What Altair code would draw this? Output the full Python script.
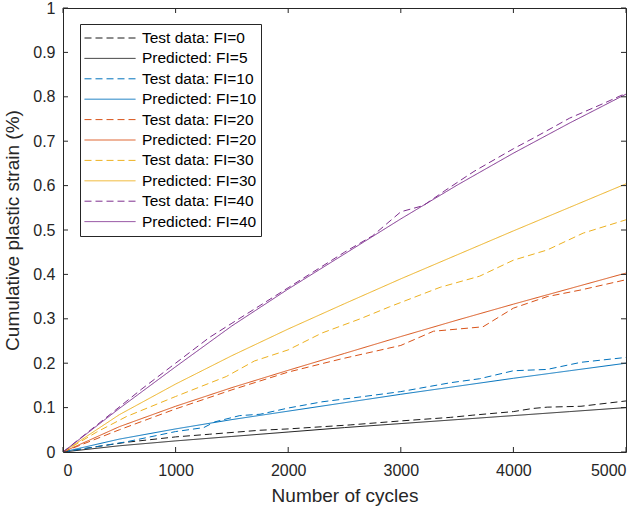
import altair as alt
import pandas as pd

# ---- data ----
series_names = [
    "Test data: FI=0", "Predicted: FI=5",
    "Test data: FI=10", "Predicted: FI=10",
    "Test data: FI=20", "Predicted: FI=20",
    "Test data: FI=30", "Predicted: FI=30",
    "Test data: FI=40", "Predicted: FI=40",
]
series_colors = ["#1a1a1a", "#1a1a1a", "#0072BD", "#0072BD", "#D95319", "#D95319",
                 "#EDB120", "#EDB120", "#7E2F8E", "#7E2F8E"]

pred_cycles = [0, 500, 1000, 1500, 2000, 2500, 3000, 3500, 4000, 4500, 5000]
pred_fi5 = [0, 0.014, 0.025, 0.035, 0.045, 0.055, 0.064, 0.073, 0.082, 0.091, 0.100]
pred_fi10 = [0, 0.029, 0.052, 0.073, 0.092, 0.111, 0.130, 0.148, 0.166, 0.183, 0.200]
pred_fi20 = [0, 0.057, 0.103, 0.145, 0.184, 0.222, 0.260, 0.297, 0.333, 0.368, 0.403]
pred_fi30 = [0, 0.084, 0.153, 0.217, 0.277, 0.334, 0.390, 0.444, 0.498, 0.551, 0.604]
pred_fi40 = [0, 0.098, 0.192, 0.284, 0.367, 0.446, 0.525, 0.601, 0.673, 0.741, 0.806]

test0_cycles = [0, 270, 565, 1000, 1300, 1750, 2000, 2550, 3000, 3440, 3640, 4000, 4170, 4300, 4600, 5000]
test0_values = [0, 0.011, 0.022, 0.034, 0.040, 0.049, 0.052, 0.061, 0.070, 0.078, 0.083, 0.091, 0.098, 0.101, 0.103, 0.115]

test10_cycles = [0, 300, 565, 1000, 1250, 1350, 1570, 1750, 2000, 2300, 2550, 3000, 3440, 3700, 4000, 4300, 4600, 5000]
test10_values = [0, 0.012, 0.023, 0.046, 0.055, 0.068, 0.082, 0.085, 0.099, 0.113, 0.121, 0.136, 0.156, 0.165, 0.183, 0.186, 0.202, 0.213]

test20_cycles = [0, 500, 1000, 1500, 2000, 2460, 3000, 3290, 3730, 4000, 4300, 4600, 5000]
test20_values = [0, 0.050, 0.097, 0.140, 0.180, 0.209, 0.240, 0.272, 0.282, 0.324, 0.350, 0.365, 0.388]

test30_cycles = [0, 300, 565, 1000, 1450, 1700, 2000, 2300, 2640, 2900, 3350, 3700, 4000, 4300, 4620, 5000]
test30_values = [0, 0.045, 0.080, 0.125, 0.170, 0.205, 0.230, 0.268, 0.300, 0.327, 0.371, 0.396, 0.432, 0.455, 0.493, 0.523]

test40_cycles = [0, 420, 700, 1000, 1300, 1500, 2000, 2500, 2750, 3000, 3200, 3400, 3650, 4000, 4200, 4500, 4800, 5000]
test40_values = [0, 0.085, 0.142, 0.200, 0.258, 0.290, 0.370, 0.450, 0.487, 0.541, 0.555, 0.590, 0.632, 0.683, 0.710, 0.752, 0.785, 0.808]

x_ticks = [0, 1000, 2000, 3000, 4000, 5000]
y_ticks = [0, 0.1, 0.2, 0.3, 0.4, 0.5, 0.6, 0.7, 0.8, 0.9, 1.0]

# ---- build long table ----
pairs = [
    (series_names[0], test0_cycles, test0_values),
    (series_names[1], pred_cycles, pred_fi5),
    (series_names[2], test10_cycles, test10_values),
    (series_names[3], pred_cycles, pred_fi10),
    (series_names[4], test20_cycles, test20_values),
    (series_names[5], pred_cycles, pred_fi20),
    (series_names[6], test30_cycles, test30_values),
    (series_names[7], pred_cycles, pred_fi30),
    (series_names[8], test40_cycles, test40_values),
    (series_names[9], pred_cycles, pred_fi40),
]
rows = []
for name, xs, ys in pairs:
    for xv, yv in zip(xs, ys):
        rows.append({"series": name, "cycles": xv, "strain": yv})
df = pd.DataFrame(rows)

dashes = [[7, 4] if n.startswith("Test") else [1, 0] for n in series_names]

W, H = 563, 444
FONT = "Liberation Sans"
AX = "#262626"

xscale = alt.Scale(domain=[0, 5000], nice=False)
yscale = alt.Scale(domain=[0, 1], nice=False)

lines = alt.Chart(df).mark_line(strokeWidth=1, clip=True).encode(
    x=alt.X("cycles:Q", scale=xscale,
            axis=alt.Axis(values=x_ticks, format="d", title="Number of cycles", grid=False,
                          ticks=False, domain=False, labelPadding=10, titlePadding=8,
                          labelFontSize=16, titleFontSize=19)),
    y=alt.Y("strain:Q", scale=yscale,
            axis=alt.Axis(values=y_ticks, format="~g", title="Cumulative plastic strain (%)",
                          grid=False, ticks=False, domain=False, labelPadding=8, titlePadding=10,
                          labelFontSize=16, titleFontSize=19)),
    color=alt.Color("series:N", scale=alt.Scale(domain=series_names, range=series_colors),
                    legend=alt.Legend(title=None, orient="none", legendX=17, legendY=16,
                                      symbolType="stroke", symbolSize=2601, symbolStrokeWidth=1,
                                      clipHeight=20, rowPadding=0.4, labelFontSize=15.5,
                                      labelFont=FONT, labelColor="#000", labelOffset=6,
                                      padding=4, strokeColor=AX, fillColor="white",
                                      cornerRadius=0)),
    strokeDash=alt.StrokeDash("series:N", scale=alt.Scale(domain=series_names, range=dashes),
                              legend=None),
    detail="series:N",
)

xt = pd.DataFrame({"t": x_ticks})
yt = pd.DataFrame({"t": y_ticks})
xb = alt.Chart(xt).mark_rule(color=AX, strokeWidth=1).encode(
    x=alt.X("t:Q", scale=xscale), y=alt.value(H), y2=alt.value(H - 5))
xtop = alt.Chart(xt).mark_rule(color=AX, strokeWidth=1).encode(
    x=alt.X("t:Q", scale=xscale), y=alt.value(0), y2=alt.value(5))
yl = alt.Chart(yt).mark_rule(color=AX, strokeWidth=1).encode(
    y=alt.Y("t:Q", scale=yscale), x=alt.value(0), x2=alt.value(5))
yr = alt.Chart(yt).mark_rule(color=AX, strokeWidth=1).encode(
    y=alt.Y("t:Q", scale=yscale), x=alt.value(W), x2=alt.value(W - 5))

chart = alt.layer(lines, xb, xtop, yl, yr).properties(
    width=W, height=H,
    padding={"left": 63, "top": 8, "right": 18, "bottom": 61},
    autosize=alt.AutoSizeParams(type="none"),
    background="white",
).configure_view(stroke=AX, strokeWidth=1).configure_axis(
    labelFont=FONT, titleFont=FONT,
    labelColor=AX, titleColor=AX, titleFontWeight="normal",
)

chart.save("out.html", embed_options={"renderer": "svg", "actions": False})
